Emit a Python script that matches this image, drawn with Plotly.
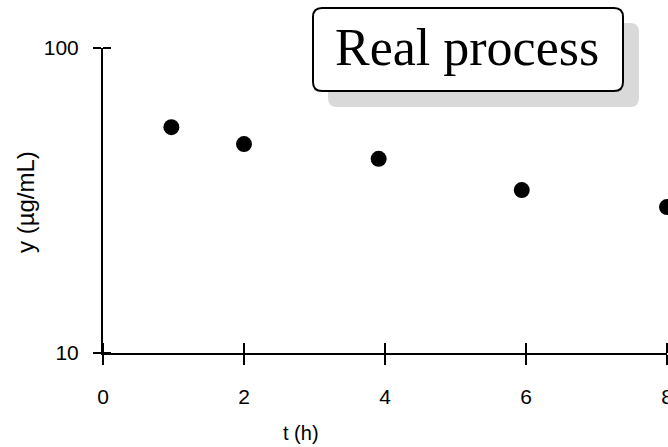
import plotly.graph_objects as go

# Data
t_hours = [0.97, 2.0, 3.91, 5.94, 8.0]
conc = [55.0, 48.4, 43.3, 34.2, 30.1]
x_ticks = [0, 2, 4, 6, 8]
y_ticks = [10, 100]
y_tick_text = ["10", "100"]
label_text = "Real process"

W, H = 668, 447
L, R, T, B = 103, 1, 48, 94
PW, PH = W - L - R, H - T - B


def px(x):
    return (x - L) / PW


def py(y):
    return (H - B - y) / PH


def rrect(x0, y0, x1, y1, r):
    # rounded rectangle path in paper coords from pixel coords
    pts = []
    pts.append(f"M {px(x0 + r)} {py(y0)}")
    pts.append(f"L {px(x1 - r)} {py(y0)}")
    pts.append(f"Q {px(x1)} {py(y0)} {px(x1)} {py(y0 + r)}")
    pts.append(f"L {px(x1)} {py(y1 - r)}")
    pts.append(f"Q {px(x1)} {py(y1)} {px(x1 - r)} {py(y1)}")
    pts.append(f"L {px(x0 + r)} {py(y1)}")
    pts.append(f"Q {px(x0)} {py(y1)} {px(x0)} {py(y1 - r)}")
    pts.append(f"L {px(x0)} {py(y0 + r)}")
    pts.append(f"Q {px(x0)} {py(y0)} {px(x0 + r)} {py(y0)}")
    pts.append("Z")
    return " ".join(pts)


fig = go.Figure()
fig.add_trace(go.Scatter(
    x=t_hours, y=conc, mode="markers",
    marker=dict(color="black", size=16),
    cliponaxis=False, showlegend=False,
))

fam = "Liberation Sans, Arial, sans-serif"
tickfont = dict(family=fam, size=21, color="black")

fig.update_layout(
    width=W, height=H,
    margin=dict(l=L, r=R, t=T, b=B, pad=0, autoexpand=False),
    paper_bgcolor="white", plot_bgcolor="white",
    xaxis=dict(
        range=[0, 8], tickmode="array", tickvals=x_ticks,
        showgrid=False, zeroline=False, automargin=False,
        showline=True, linecolor="black", linewidth=2,
        ticks="outside", ticklen=10, tickwidth=1.5, tickcolor="black",
        tickfont=tickfont, ticklabelstandoff=14, ticklabeloverflow="allow",
        minor=dict(tickmode="array", tickvals=x_ticks, ticks="inside",
                   ticklen=10, tickwidth=1.5, tickcolor="black", showgrid=False),
    ),
    yaxis=dict(
        type="log", range=[1, 2], tickmode="array", tickvals=y_ticks,
        ticktext=y_tick_text, automargin=False,
        showgrid=False, zeroline=False,
        showline=True, linecolor="black", linewidth=2,
        ticks="outside", ticklen=8, tickwidth=1.5, tickcolor="black",
        tickfont=tickfont, ticklabelstandoff=10,
        minor=dict(tickmode="array", tickvals=y_ticks, ticks="inside",
                   ticklen=8, tickwidth=1.5, tickcolor="black", showgrid=False),
    ),
    shapes=[
        dict(type="path", xref="paper", yref="paper",
             path=rrect(328, 23, 639, 107, 9),
             fillcolor="#d9d9d9", line=dict(width=0), layer="above"),
        dict(type="path", xref="paper", yref="paper",
             path=rrect(313, 8, 623, 91, 9),
             fillcolor="white", line=dict(color="black", width=2), layer="above"),
    ],
    annotations=[
        dict(text=label_text, xref="paper", yref="paper",
             x=px(467), y=py(47), xanchor="center", yanchor="middle",
             showarrow=False,
             font=dict(family="Liberation Serif, Times New Roman, serif", size=52, color="black")),
        dict(text="t (h)", xref="paper", yref="paper",
             x=px(301), y=py(433), xanchor="center", yanchor="middle",
             showarrow=False, font=dict(family=fam, size=20, color="black")),
        dict(text="y (µg/mL)", xref="paper", yref="paper",
             x=px(26), y=py(202), xanchor="center", yanchor="middle",
             textangle=-90, showarrow=False, font=dict(family=fam, size=24, color="black")),
    ],
)

fig.write_html("out.html", config={"displayModeBar": False},
               post_script="document.body.style.margin='0';")
